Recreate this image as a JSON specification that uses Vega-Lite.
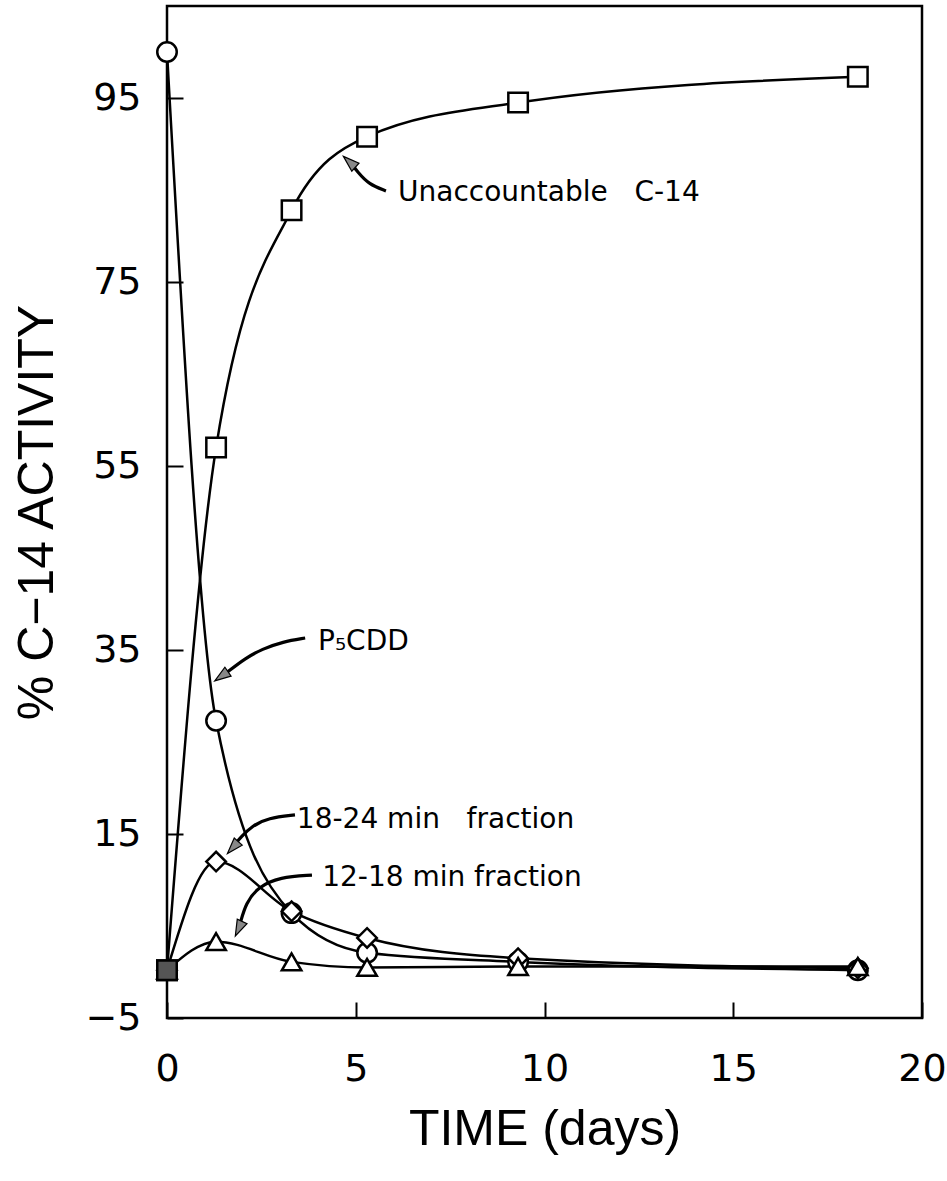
{
  "$schema": "https://vega.github.io/schema/vega-lite/v6.json",
  "width": 755,
  "height": 1012,
  "autosize": "none",
  "padding": {"left": 167, "top": 6, "right": 25, "bottom": 163},
  "background": "white",
  "config": {"view": {"stroke": "black", "strokeWidth": 2.5}},
  "datasets": {
    "series": [
      {"series": "Unaccountable", "time": 0, "value": 0.2},
      {"series": "Unaccountable", "time": 1.3, "value": 57.0},
      {"series": "Unaccountable", "time": 3.3, "value": 82.8},
      {"series": "Unaccountable", "time": 5.3, "value": 90.8},
      {"series": "Unaccountable", "time": 9.3, "value": 94.5},
      {"series": "Unaccountable", "time": 18.3, "value": 97.3},
      {"series": "P5CDD", "time": 0, "value": 100},
      {"series": "P5CDD", "time": 1.3, "value": 27.3},
      {"series": "P5CDD", "time": 3.3, "value": 6.4},
      {"series": "P5CDD", "time": 5.3, "value": 2.1},
      {"series": "P5CDD", "time": 9.3, "value": 1.1},
      {"series": "P5CDD", "time": 18.3, "value": 0.2},
      {"series": "18-24", "time": 0, "value": 0.2},
      {"series": "18-24", "time": 1.3, "value": 12.0},
      {"series": "18-24", "time": 3.3, "value": 6.6},
      {"series": "18-24", "time": 5.3, "value": 3.7},
      {"series": "18-24", "time": 9.3, "value": 1.5},
      {"series": "18-24", "time": 18.3, "value": 0.4},
      {"series": "12-18", "time": 0, "value": 0.2},
      {"series": "12-18", "time": 1.3, "value": 3.3},
      {"series": "12-18", "time": 3.3, "value": 1.1},
      {"series": "12-18", "time": 5.3, "value": 0.5},
      {"series": "12-18", "time": 9.3, "value": 0.6},
      {"series": "12-18", "time": 18.3, "value": 0.6}
    ],
    "arrows": [
      {"arrow": "a1", "i": 1, "time": 5.80, "value": 84.9},
      {"arrow": "a1", "i": 2, "time": 5.35, "value": 85.6},
      {"arrow": "a1", "i": 3, "time": 5.04, "value": 87.0},
      {"arrow": "a1", "i": 4, "time": 4.90, "value": 87.8},
      {"arrow": "a2", "i": 1, "time": 3.66, "value": 36.3},
      {"arrow": "a2", "i": 2, "time": 3.07, "value": 35.9},
      {"arrow": "a2", "i": 3, "time": 2.52, "value": 35.1},
      {"arrow": "a2", "i": 4, "time": 2.07, "value": 34.1},
      {"arrow": "a2", "i": 5, "time": 1.60, "value": 32.6},
      {"arrow": "a3", "i": 1, "time": 3.39, "value": 17.07},
      {"arrow": "a3", "i": 2, "time": 2.68, "value": 16.74},
      {"arrow": "a3", "i": 3, "time": 2.25, "value": 15.87},
      {"arrow": "a3", "i": 4, "time": 1.96, "value": 14.67},
      {"arrow": "a3", "i": 5, "time": 1.80, "value": 13.9},
      {"arrow": "a4", "i": 1, "time": 3.84, "value": 10.54},
      {"arrow": "a4", "i": 2, "time": 2.99, "value": 10.33},
      {"arrow": "a4", "i": 3, "time": 2.41, "value": 9.24},
      {"arrow": "a4", "i": 4, "time": 2.09, "value": 7.5},
      {"arrow": "a4", "i": 5, "time": 1.94, "value": 5.3}
    ],
    "heads": [
      {"arrow": "a1", "time": 4.85, "value": 88.0},
      {"arrow": "a2", "time": 1.46, "value": 32.2},
      {"arrow": "a3", "time": 1.76, "value": 13.6},
      {"arrow": "a4", "time": 1.91, "value": 4.8}
    ],
    "labels": [
      {"label": "Unaccountable\u00a0\u00a0\u00a0C-14", "time": 6.12, "value": 84.7},
      {"label": "P₅CDD", "time": 4.0, "value": 35.9},
      {"label": "18-24 min\u00a0\u00a0\u00a0fraction", "time": 3.44, "value": 16.5},
      {"label": "12-18 min fraction", "time": 4.11, "value": 10.2}
    ]
  },
  "encoding": {
    "x": {
      "field": "time", "type": "quantitative",
      "scale": {"domain": [0, 20], "nice": false, "zero": false},
      "axis": {
        "title": "TIME (days)", "values": [0, 5, 10, 15, 20],
        "grid": false, "domain": false, "labelFlush": false,
        "tickSize": -16, "tickWidth": 2, "tickColor": "black",
        "labelFont": "DejaVu Sans", "labelFontSize": 38, "labelColor": "black", "labelPadding": 48,
        "titleFont": "Liberation Sans", "titleFontSize": 50, "titleFontWeight": "normal", "titleColor": "black", "titlePadding": 16
      }
    },
    "y": {
      "field": "value", "type": "quantitative",
      "scale": {"domain": [-5, 105], "nice": false, "zero": false},
      "axis": {
        "title": "% C−14 ACTIVITY", "values": [-5, 15, 35, 55, 75, 95],
        "grid": false, "domain": false, "labelFlush": false,
        "tickSize": -16, "tickWidth": 2, "tickColor": "black",
        "labelFont": "DejaVu Sans", "labelFontSize": 38, "labelColor": "black", "labelPadding": 42,
        "titleFont": "Liberation Sans", "titleFontSize": 50, "titleFontWeight": "normal", "titleColor": "black", "titlePadding": 22
      }
    }
  },
  "layer": [
    {
      "data": {"name": "series"},
      "mark": {"type": "line", "interpolate": "monotone", "color": "black", "strokeWidth": 2.5},
      "encoding": {"detail": {"field": "series", "type": "nominal"}}
    },
    {
      "data": {"name": "arrows"},
      "mark": {"type": "line", "interpolate": "basis", "color": "black", "strokeWidth": 3.2},
      "encoding": {"detail": {"field": "arrow", "type": "nominal"}, "order": {"field": "i", "type": "quantitative"}}
    },
    {
      "data": {"name": "heads"},
      "transform": [{"filter": "datum.arrow === 'a1'"}],
      "mark": {"type": "point", "shape": "M0,-1L0.6,0.8L-0.6,0.8Z", "angle": 312, "size": 320, "filled": true, "fill": "#888", "stroke": "black", "strokeWidth": 1.2, "opacity": 1}
    },
    {
      "data": {"name": "heads"},
      "transform": [{"filter": "datum.arrow === 'a2'"}],
      "mark": {"type": "point", "shape": "M0,-1L0.6,0.8L-0.6,0.8Z", "angle": 235, "size": 320, "filled": true, "fill": "#888", "stroke": "black", "strokeWidth": 1.2, "opacity": 1}
    },
    {
      "data": {"name": "heads"},
      "transform": [{"filter": "datum.arrow === 'a3'"}],
      "mark": {"type": "point", "shape": "M0,-1L0.6,0.8L-0.6,0.8Z", "angle": 222, "size": 320, "filled": true, "fill": "#888", "stroke": "black", "strokeWidth": 1.2, "opacity": 1}
    },
    {
      "data": {"name": "heads"},
      "transform": [{"filter": "datum.arrow === 'a4'"}],
      "mark": {"type": "point", "shape": "M0,-1L0.6,0.8L-0.6,0.8Z", "angle": 205, "size": 320, "filled": true, "fill": "#888", "stroke": "black", "strokeWidth": 1.2, "opacity": 1}
    },
    {
      "data": {"name": "series"},
      "mark": {"type": "point", "filled": true, "fill": "white", "stroke": "black", "strokeWidth": 2.5, "size": 380, "opacity": 1},
      "encoding": {
        "shape": {
          "field": "series", "type": "nominal",
          "scale": {"domain": ["Unaccountable", "P5CDD", "18-24", "12-18"], "range": ["square", "circle", "diamond", "triangle-up"]},
          "legend": null
        }
      }
    },
    {
      "data": {"name": "series"},
      "transform": [{"filter": "datum.time === 0 && datum.series === 'Unaccountable'"}],
      "mark": {"type": "point", "shape": "square", "filled": true, "fill": "#555", "stroke": "black", "strokeWidth": 2.5, "size": 380, "opacity": 1}
    },
    {
      "data": {"name": "labels"},
      "mark": {"type": "text", "align": "left", "baseline": "middle", "font": "DejaVu Sans", "fontSize": 28, "color": "black"},
      "encoding": {"text": {"field": "label", "type": "nominal"}}
    }
  ]
}
